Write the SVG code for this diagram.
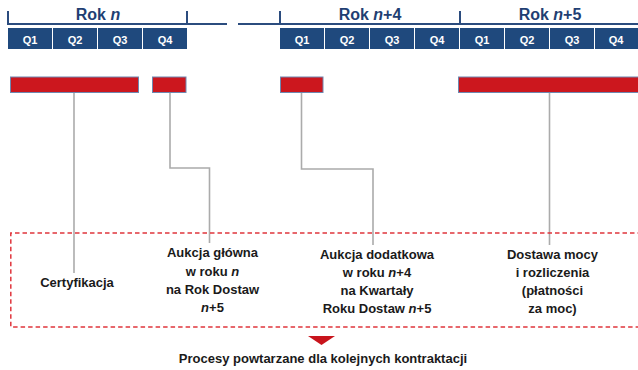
<svg xmlns="http://www.w3.org/2000/svg" width="638" height="370" viewBox="0 0 638 370">
<style>
.q{fill:#1F497D}
.ql{font-family:"Liberation Sans",Arial,sans-serif;font-weight:bold;font-size:11px;fill:#ffffff;text-anchor:middle}
.yr{font-family:"Liberation Sans",Arial,sans-serif;font-weight:bold;font-size:16px;fill:#1F3F73;text-anchor:middle}
.br{stroke:#2B4C7E;stroke-width:2;fill:none}
.bar{fill:#CC171E;stroke:#6E88B0;stroke-width:1}
.con{stroke:#ABABAB;stroke-width:1.6;fill:none}
.lb{font-family:"Liberation Sans",Arial,sans-serif;font-weight:bold;font-size:13px;fill:#1a1a1a;text-anchor:middle}
</style>
<rect width="638" height="370" fill="#ffffff"/>
<g id="timeline">
<path class="br" d="M8,11V25M8,24H227M238,24H638M187,11V24M280,11V24M460,11V24"/>
<text class="yr" x="98" y="20">Rok <tspan font-style="italic">n</tspan></text>
<text class="yr" x="370" y="20">Rok <tspan font-style="italic">n</tspan>+4</text>
<text class="yr" x="550" y="20">Rok <tspan font-style="italic">n</tspan>+5</text>
<rect class="q" x="8" y="28" width="44" height="21"/><text class="ql" x="30" y="44">Q1</text>
<rect class="q" x="53" y="28" width="44" height="21"/><text class="ql" x="75" y="44">Q2</text>
<rect class="q" x="98" y="28" width="44" height="21"/><text class="ql" x="120" y="44">Q3</text>
<rect class="q" x="143" y="28" width="44" height="21"/><text class="ql" x="165" y="44">Q4</text>
<rect class="q" x="280" y="28" width="44" height="21"/><text class="ql" x="302" y="44">Q1</text>
<rect class="q" x="325" y="28" width="44" height="21"/><text class="ql" x="347" y="44">Q2</text>
<rect class="q" x="370" y="28" width="44" height="21"/><text class="ql" x="392" y="44">Q3</text>
<rect class="q" x="415" y="28" width="44" height="21"/><text class="ql" x="437" y="44">Q4</text>
<rect class="q" x="460" y="28" width="44" height="21"/><text class="ql" x="482" y="44">Q1</text>
<rect class="q" x="505" y="28" width="44" height="21"/><text class="ql" x="527" y="44">Q2</text>
<rect class="q" x="550" y="28" width="44" height="21"/><text class="ql" x="572" y="44">Q3</text>
<rect class="q" x="595" y="28" width="44" height="21"/><text class="ql" x="616" y="44">Q4</text>
</g>
<g id="connectors">
<path class="con" d="M74,92V273"/>
<path class="con" d="M170,92V168H209.5V243"/>
<path class="con" d="M301.5,92V169H373V245"/>
<path class="con" d="M549.5,92V245"/>
</g>
<g id="bar-certyfikacja"><rect class="bar" x="10.5" y="77" width="128" height="15.5"/></g>
<g id="bar-aukcja-glowna"><rect class="bar" x="152.5" y="77" width="33.5" height="15.5"/></g>
<g id="bar-aukcja-dodatkowa"><rect class="bar" x="280.5" y="77" width="42.5" height="15.5"/></g>
<g id="bar-dostawa"><rect class="bar" x="458.5" y="77" width="181" height="15.5"/></g>
<g id="box">
<path d="M642,233H10.8V327H642" fill="none" stroke="#E0363D" stroke-width="1.5" stroke-dasharray="4.5,3"/>
</g>
<g id="node-certyfikacja"><text class="lb" x="77" y="287">Certyfikacja</text></g>
<g id="node-aukcja-glowna">
<text class="lb" x="212.5" y="257">Aukcja główna</text>
<text class="lb" x="212.5" y="276">w roku <tspan font-style="italic">n</tspan></text>
<text class="lb" x="212.5" y="294">na Rok Dostaw</text>
<text class="lb" x="212.5" y="312"><tspan font-style="italic">n</tspan>+5</text>
</g>
<g id="node-aukcja-dodatkowa">
<text class="lb" x="377" y="259">Aukcja dodatkowa</text>
<text class="lb" x="377" y="277">w roku <tspan font-style="italic">n</tspan>+4</text>
<text class="lb" x="377" y="295">na Kwartały</text>
<text class="lb" x="377" y="313">Roku Dostaw <tspan font-style="italic">n</tspan>+5</text>
</g>
<g id="node-dostawa">
<text class="lb" x="552.5" y="259">Dostawa mocy</text>
<text class="lb" x="552.5" y="277">i rozliczenia</text>
<text class="lb" x="552.5" y="295">(płatności</text>
<text class="lb" x="552.5" y="313">za moc)</text>
</g>
<g id="footer">
<polygon points="308,336 335,336 321.5,345" fill="#C8141C"/>
<text class="lb" x="323" y="363">Procesy powtarzane dla kolejnych kontraktacji</text>
</g>
</svg>
